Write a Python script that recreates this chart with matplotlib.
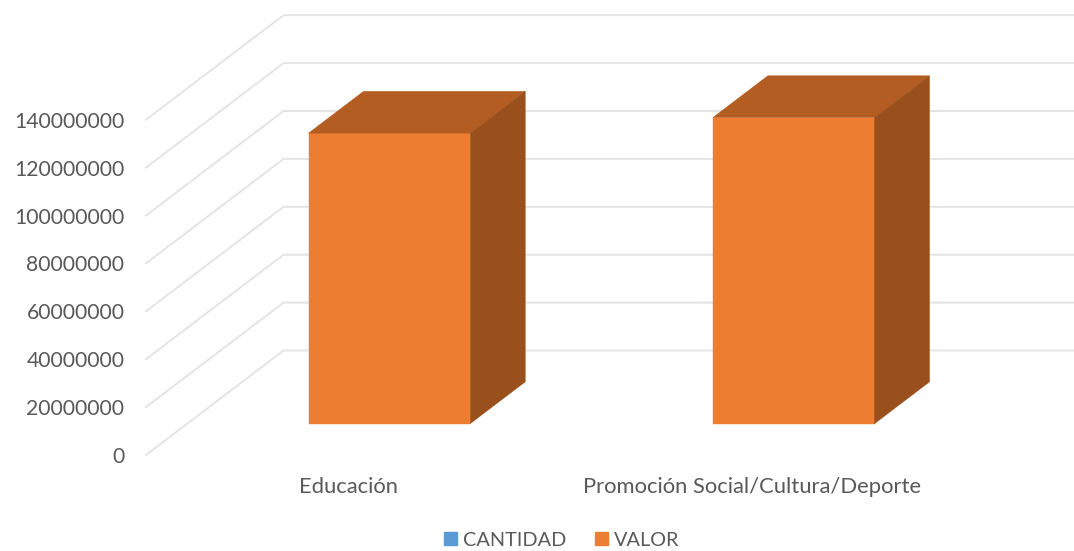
import numpy as np
import matplotlib
matplotlib.use("Agg")
import matplotlib.pyplot as plt
from matplotlib.patches import Patch

categorias = ['Educación', 'Promoción Social/Cultura/Deporte']
valor = [121300000, 127800000]
ticks = [0, 20000000, 40000000, 60000000, 80000000, 100000000, 120000000, 140000000]
series = ['CANTIDAD', 'VALOR']

# 3d look, depth of the floor in data units
DEPTH_X = 137.5 / 404.3
DEPTH_Y = 104.5 / 335.3 * 140000000
BAR_W = 0.4
D_FRONT, D_BACK = 0.3, 0.7

plt.rcParams['font.family'] = ['Lato', 'DejaVu Sans']
W, H = 1074, 551
fig = plt.figure(figsize=(W / 100, H / 100), dpi=100)
ax = fig.add_axes([146 / W, (H - 455) / H, 808.6 / W, 335.3 / H])
ax.set_xlim(-0.5, 1.5)
ax.set_ylim(0, 140000000)


def proj(x, v, d):
    return x + d * DEPTH_X, v + d * DEPTH_Y


# gridlines: slanted floor part then back wall
for t in ticks:
    xs, ys = zip(proj(-0.5, t, 0), proj(-0.5, t, 1), proj(2.0, t, 1))
    ax.plot(xs, ys, color='#e4e4e4', lw=1.4, clip_on=False, zorder=1)


def face(pts, color):
    xs, ys = zip(*pts)
    ax.fill(xs, ys, color=color, lw=0.3, clip_on=False, zorder=3)


for i, v in enumerate(valor):
    l, r = i - BAR_W / 2, i + BAR_W / 2
    face([proj(l, 0, D_FRONT), proj(r, 0, D_FRONT), proj(r, v, D_FRONT), proj(l, v, D_FRONT)], '#ed7d31')
    face([proj(l, v, D_FRONT), proj(r, v, D_FRONT), proj(r, v, D_BACK), proj(l, v, D_BACK)], '#b35d22')
    face([proj(r, 0, D_FRONT), proj(r, 0, D_BACK), proj(r, v, D_BACK), proj(r, v, D_FRONT)], '#9a501c')

for s in ax.spines.values():
    s.set_visible(False)
ax.set_yticks(ticks)
ax.set_yticklabels([str(t) for t in ticks])
ax.set_xticks([0, 1])
ax.set_xticklabels(categorias)
ax.tick_params(axis='y', length=0, pad=15.5, labelsize=15.2, labelcolor='#595959')
ax.tick_params(axis='x', length=0, pad=16, labelsize=15.8, labelcolor='#595959')

handles = [Patch(color='#5b9bd5', label=series[0]), Patch(color='#ed7d31', label=series[1])]
fig.legend(handles=handles, loc='lower center', ncol=2, frameon=False, fontsize=14.3,
           labelcolor='#595959', handlelength=0.65, handleheight=0.65, handletextpad=0.3,
           columnspacing=1.46, bbox_to_anchor=(562 / W, -0.014), borderpad=0)

fig.savefig('out.png', dpi=100)
